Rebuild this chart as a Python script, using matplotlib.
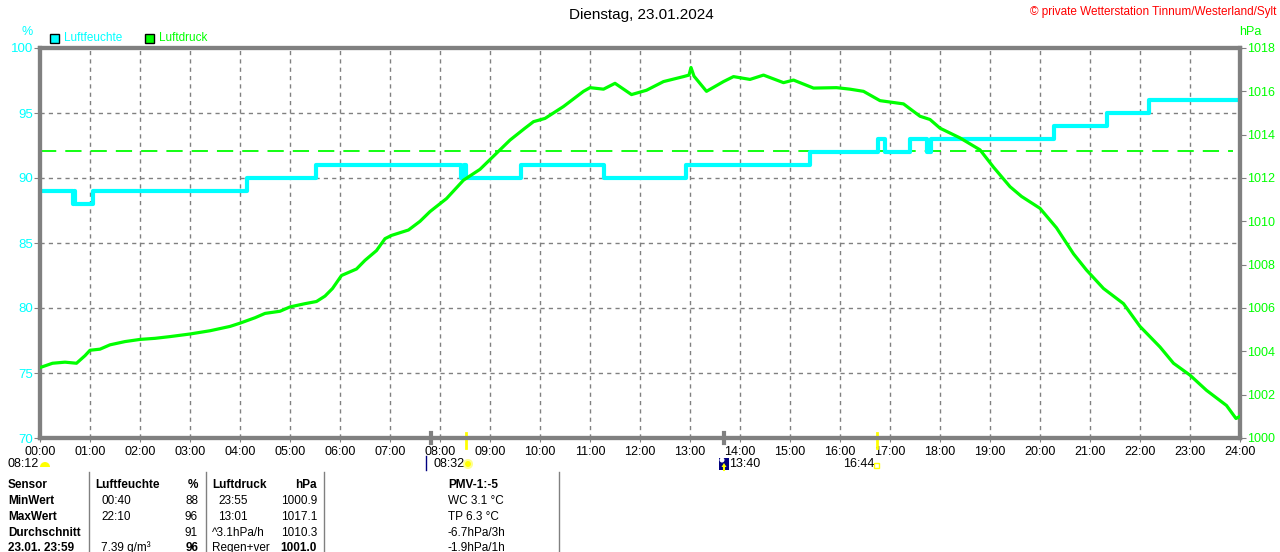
"""Tagesgrafik Luftfeuchte / Luftdruck einer privaten Wetterstation (23.01.2024)."""

import matplotlib

matplotlib.use("Agg")
import matplotlib.pyplot as plt
from matplotlib.patches import Rectangle, Circle, Wedge, Polygon
from matplotlib.transforms import IdentityTransform

plt.rcParams["font.family"] = ["Liberation Sans", "DejaVu Sans"]

W, H = 1280, 552

CYAN = "#00ffff"
GREEN = "#00ff00"
GRAY = "#808080"
YELLOW = "#ffff00"
NAVY = "#000080"

# humidity steps (hour, %), drawn as steps-post
hum_hours = [0, 0.66, 0.68, 0.70, 1.06, 4.13, 5.52, 8.41, 8.47, 8.53, 9.62, 11.28,
             12.92, 15.40, 16.75, 16.90, 17.40, 17.73, 17.83, 20.28, 21.33, 22.17, 24.0]
hum_vals = [89, 88, 89, 88, 89, 90, 91, 90, 91, 90, 91, 90,
            91, 92, 93, 92, 93, 92, 93, 94, 95, 96, 96]

# air pressure (hour, hPa)
p_hours = [0.0, 0.25, 0.5, 0.73, 0.9, 1.0, 1.2, 1.4, 1.7, 2.0, 2.3, 2.6, 3.0, 3.4,
           3.8, 4.0, 4.3, 4.5, 4.8, 5.0, 5.3, 5.53, 5.7, 5.85, 6.03, 6.33, 6.5,
           6.73, 6.9, 7.03, 7.37, 7.6, 7.8, 8.13, 8.47, 8.8, 9.0, 9.4, 9.7, 9.87,
           10.1, 10.47, 10.87, 11.0, 11.27, 11.5, 11.83, 12.13, 12.47, 12.87,
           12.98, 13.02, 13.08, 13.33, 13.67, 13.87, 14.2, 14.47, 14.87, 15.07,
           15.47, 15.93, 16.2, 16.47, 16.8, 17.27, 17.6, 17.8, 18.0, 18.4, 18.8,
           19.07, 19.4, 19.63, 20.0, 20.33, 20.67, 20.93, 21.27, 21.67, 22.0,
           22.4, 22.67, 23.0, 23.33, 23.73, 23.92, 24.0]
p_vals = [1003.25, 1003.45, 1003.5, 1003.45, 1003.8, 1004.05, 1004.1, 1004.3,
          1004.45, 1004.55, 1004.6, 1004.68, 1004.8, 1004.95, 1005.15, 1005.3,
          1005.55, 1005.75, 1005.85, 1006.05, 1006.2, 1006.3, 1006.55, 1006.9,
          1007.5, 1007.8, 1008.2, 1008.65, 1009.2, 1009.35, 1009.6, 1010.0,
          1010.45, 1011.05, 1011.9, 1012.4, 1012.85, 1013.75, 1014.3, 1014.6,
          1014.75, 1015.3, 1016.0, 1016.17, 1016.1, 1016.37, 1015.85, 1016.05,
          1016.45, 1016.68, 1016.75, 1017.1, 1016.7, 1016.0, 1016.45, 1016.68,
          1016.55, 1016.75, 1016.4, 1016.52, 1016.15, 1016.17, 1016.1, 1016.0,
          1015.57, 1015.42, 1014.85, 1014.7, 1014.3, 1013.85, 1013.3, 1012.5,
          1011.6, 1011.15, 1010.6, 1009.7, 1008.5, 1007.75, 1006.9, 1006.2,
          1005.15, 1004.2, 1003.45, 1002.9, 1002.2, 1001.5, 1000.9, 1001.0]

P_NORMAL = 1013.25
hour_labels = [f"{h:02d}:00" for h in range(25)]
hum_ticks = [70, 75, 80, 85, 90, 95, 100]
p_ticks = list(range(1000, 1019, 2))

# sun / moon events (hour)
gray_marks = [7.82, 13.67]
yellow_marks = [8.53, 16.73]

# statistics table below the chart
table_rows = [
    ["Sensor", "Luftfeuchte", "%", "Luftdruck", "hPa", "PMV-1:-5"],
    ["MinWert", "00:40", "88", "23:55", "1000.9", "WC 3.1 °C"],
    ["MaxWert", "22:10", "96", "13:01", "1017.1", "TP 6.3 °C"],
    ["Durchschnitt", "", "91", "^3.1hPa/h", "1010.3", "-6.7hPa/3h"],
    ["23.01. 23:59", "7.39 g/m³", "96", "Regen+ver", "1001.0", "-1.9hPa/1h"],
]


def fx(x):
    return x / W


def fy(y):
    return 1 - y / H


PIX = IdentityTransform()


def px(x, y):
    """Pixel position from the top-left corner -> display coords."""
    return (x, H - y)


fig = plt.figure(figsize=(W / 100, H / 100), dpi=100)
ax = fig.add_axes([fx(40), fy(438), fx(1200), 390 / H])
ax2 = ax.twinx()

ax.set_xlim(0, 24)
ax.set_ylim(70, 100)
ax2.set_ylim(1000, 1018)

# grid
for h in range(1, 24):
    ax.axvline(h, color=GRAY, lw=1, ls=(0, (3, 3)), zorder=0)
for v in hum_ticks[1:-1]:
    ax.axhline(v, color=GRAY, lw=1, ls=(0, (3, 3)), zorder=0)

# normal pressure, drawn under the humidity line
ax.plot([0, 23.85], [P_NORMAL, P_NORMAL], transform=ax2.transData,
        color=GREEN, lw=1.3, ls=(0, (9, 5)), zorder=1)
ax.plot(hum_hours, hum_vals, drawstyle="steps-post", color=CYAN, lw=3, zorder=2)
ax2.plot(p_hours, p_vals, color=GREEN, lw=2.3, zorder=3)

for a in (ax, ax2):
    for s in a.spines.values():
        s.set_color(GRAY)
        s.set_linewidth(3)

ax.set_xticks(range(25))
ax.set_xticklabels(hour_labels, fontsize=9)
ax.set_yticks(hum_ticks)
ax.set_yticklabels([str(v) for v in hum_ticks], fontsize=9.5, color=CYAN)
ax.tick_params(axis="x", length=3, color=GRAY, pad=3)
ax.tick_params(axis="y", length=4, color=GRAY, pad=1)
ax2.set_yticks(p_ticks)
ax2.set_yticklabels([str(v) for v in p_ticks], fontsize=9, color=GREEN)
ax2.tick_params(axis="y", length=4, color=GRAY, pad=1)

# sunrise / moon markers on the time axis
tr = ax.get_xaxis_transform()
for h in gray_marks:
    ax.plot([h, h], [-0.012, 0.012], transform=tr, color=GRAY, lw=3, clip_on=False, zorder=5)
for h in yellow_marks:
    ax.plot([h, h], [-0.025, 0.012], transform=tr, color=YELLOW, lw=2, clip_on=False, zorder=5)

# headings
fig.text(fx(641), fy(15), "Dienstag, 23.01.2024", ha="center", va="center", fontsize=11)
fig.text(fx(1276), fy(12), "© private Wetterstation Tinnum/Westerland/Sylt",
         ha="right", va="center", fontsize=8.5, color="red")
fig.text(fx(27), fy(32), "%", ha="center", va="center", fontsize=9, color=CYAN)
fig.text(fx(1250), fy(32), "hPa", ha="center", va="center", fontsize=9, color=GREEN)

fig.patches.append(Rectangle(px(50, 43), 9, 9, transform=PIX,
                             facecolor=CYAN, edgecolor="black", lw=1))
fig.text(fx(64), fy(38), "Luftfeuchte", va="center", fontsize=8.5, color=CYAN)
fig.patches.append(Rectangle(px(145, 43), 9, 9, transform=PIX,
                             facecolor=GREEN, edgecolor="black", lw=1))
fig.text(fx(159), fy(38), "Luftdruck", va="center", fontsize=8.5, color=GREEN)

# sun / moon times row
ev_y = fy(464)
fig.text(fx(8), ev_y, "08:12", va="center", fontsize=9)
fig.patches.append(Wedge(px(45, 467), 5, 0, 180, transform=PIX,
                         facecolor=YELLOW, edgecolor="none"))
fig.lines.append(plt.Line2D([426, 426], [H - 456, H - 470], transform=PIX,
                            color=NAVY, lw=1))
fig.text(fx(433), ev_y, "08:32", va="center", fontsize=9)
fig.patches.append(Circle(px(468, 464), 4, transform=PIX,
                          facecolor=YELLOW, edgecolor="#ffff90", lw=1.5))
fig.patches.append(Rectangle(px(719, 470), 10, 12, transform=PIX,
                             facecolor=NAVY, edgecolor="none"))
fig.patches.append(Circle(px(722, 460), 2.5, transform=PIX,
                          facecolor="white", edgecolor="none"))
fig.patches.append(Polygon([px(724, 463), px(721.5, 467), px(726.5, 467)], transform=PIX,
                           facecolor=YELLOW, edgecolor="none"))
fig.lines.append(plt.Line2D([724, 724], [H - 466, H - 470], transform=PIX,
                            color=YELLOW, lw=1.5))
fig.text(fx(729), ev_y, "13:40", va="center", fontsize=9)
fig.text(fx(843), ev_y, "16:44", va="center", fontsize=9)
fig.patches.append(Rectangle(px(874, 468), 5, 5, transform=PIX,
                             facecolor="white", edgecolor=YELLOW, lw=1))

# statistics table
for x in (89, 206, 324, 559):
    fig.lines.append(plt.Line2D([fx(x), fx(x)], [fy(472), 0], transform=fig.transFigure,
                                color=GRAY, lw=1))
row_y = [485, 501, 517, 533, 548]
for i, row in enumerate(table_rows):
    y = fy(row_y[i])
    head = i == 0
    fig.text(fx(8), y, row[0], va="center", fontsize=8.5, fontweight="bold")
    fig.text(fx(95 if head else 101), y, row[1], va="center", fontsize=8.5,
             fontweight="bold" if head else "normal")
    fig.text(fx(198), y, row[2], va="center", ha="right", fontsize=8.5,
             fontweight="bold" if head or i == 4 else "normal")
    fig.text(fx(212 if head or i >= 3 else 218), y, row[3], va="center", fontsize=8.5,
             fontweight="bold" if head else "normal")
    fig.text(fx(317), y, row[4], va="center", ha="right", fontsize=8.5,
             fontweight="bold" if head or i == 4 else "normal")
    fig.text(fx(448), y, row[5], va="center", fontsize=8.5,
             fontweight="bold" if head else "normal")

fig.savefig("out.png", dpi=100)
